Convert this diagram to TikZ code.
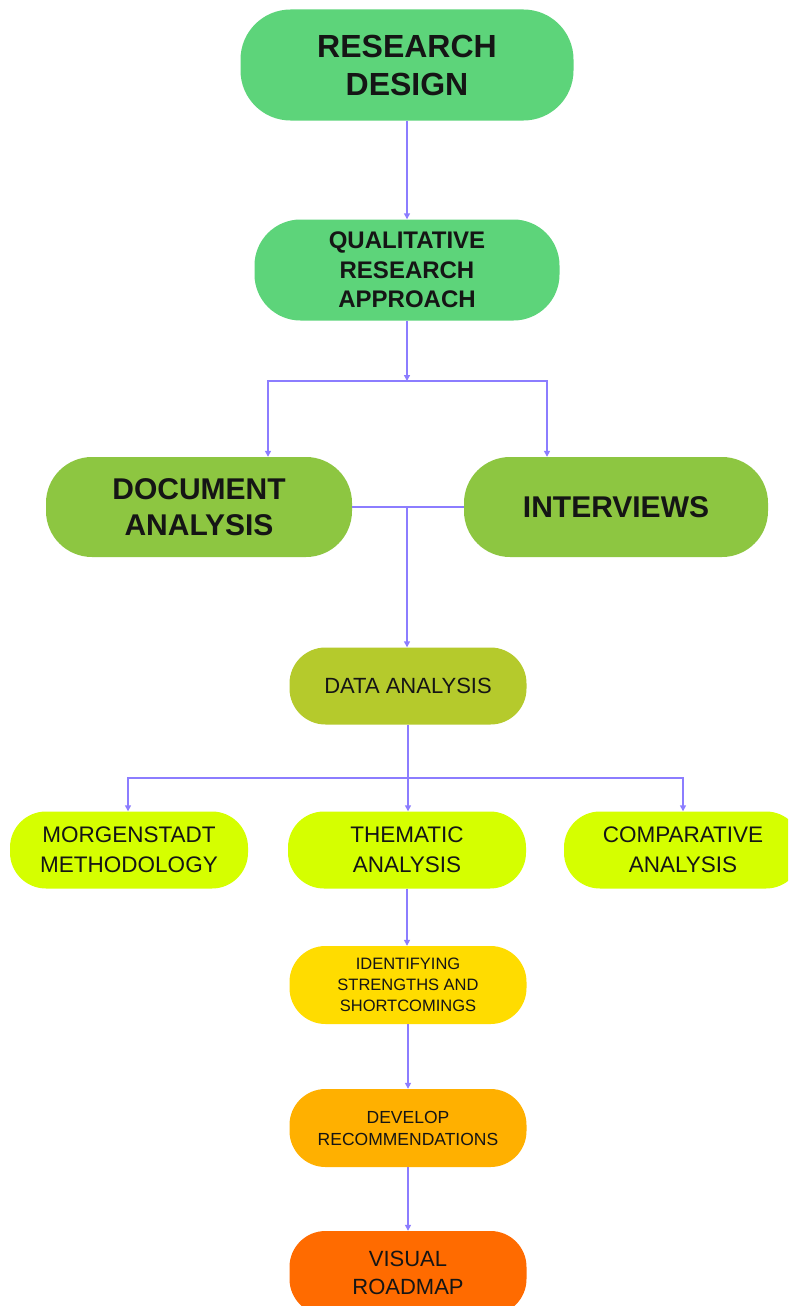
\documentclass[tikz,border=0pt]{standalone}
\usepackage{fontspec}
\setmainfont{Liberation Sans}
\usetikzlibrary{arrows.meta,calc}

\definecolor{greenA}{HTML}{5DD47A}
\definecolor{greenB}{HTML}{8DC641}
\definecolor{olive}{HTML}{B5CA2C}
\definecolor{lime}{HTML}{D5FF00}
\definecolor{yel}{HTML}{FFDC00}
\definecolor{amber}{HTML}{FFB000}
\definecolor{flame}{HTML}{FF6B00}
\definecolor{link}{HTML}{8C7DFF}
\definecolor{ink}{HTML}{151515}

\tikzset{
  pill/.style={rectangle, inner sep=0pt, align=center, text=ink},
  bigpill/.style={pill, minimum width=#1, minimum height=111pt, rounded corners=50pt},
  midpill/.style={pill, minimum height=100pt, rounded corners=46pt},
  smallpill/.style={pill, minimum width=237pt, minimum height=78pt, rounded corners=36pt},
  flow/.style={draw=link, line width=1.4pt, -{Triangle[length=6pt,width=6pt]}},
  plain/.style={draw=link, line width=1.4pt},
}

\begin{document}
\begin{tikzpicture}[x=1pt,y=-1pt]
\clip (0,0) rectangle (788,1306);
\fill[white] (0,0) rectangle (788,1306);

% main column
\node[bigpill=333pt, fill=greenA, font=\bfseries\fontsize{32}{38}\selectfont] (rd) at (407,65) {RESEARCH\\DESIGN};
\node[midpill, minimum width=305pt, minimum height=101pt, fill=greenA, font=\bfseries\fontsize{24}{29.5}\selectfont] (qra) at (407,270) {QUALITATIVE\\RESEARCH\\APPROACH};

% collection methods
\node[midpill, minimum width=306pt, fill=greenB, font=\bfseries\fontsize{30}{36}\selectfont] (doc) at (199,507) {DOCUMENT\\ANALYSIS};
\node[midpill, minimum width=304pt, fill=greenB, font=\bfseries\fontsize{30}{36}\selectfont] (int) at (616,507) {INTERVIEWS};

% analysis
\node[smallpill, minimum height=77pt, fill=olive, font=\fontsize{22}{28}\selectfont] (data) at (408,686) {DATA ANALYSIS};
\node[smallpill, minimum width=238pt, minimum height=77pt, fill=lime, font=\fontsize{22.5}{30}\selectfont] (morg) at (129,850) {MORGENSTADT\\METHODOLOGY};
\node[smallpill, minimum width=238pt, minimum height=77pt, fill=lime, font=\fontsize{22.5}{30}\selectfont] (them) at (407,850) {THEMATIC\\ANALYSIS};
\node[smallpill, minimum width=238pt, minimum height=77pt, fill=lime, font=\fontsize{22.5}{30}\selectfont] (comp) at (683,850) {COMPARATIVE\\ANALYSIS};

% outcomes
\node[smallpill, fill=yel, font=\fontsize{16.5}{21}\selectfont] (ident) at (408,985) {IDENTIFYING\\STRENGTHS AND\\SHORTCOMINGS};
\node[smallpill, fill=amber, font=\fontsize{17.5}{22}\selectfont] (dev) at (408,1128) {DEVELOP\\RECOMMENDATIONS};
\node[smallpill, minimum height=84pt, fill=flame, font=\fontsize{22}{28}\selectfont] (vis) at (408,1273) {VISUAL\\ROADMAP};

% connectors
\coordinate (j1) at (407,381);
\coordinate (j2) at (407,507);
\coordinate (j3) at (408,778);

\draw[flow] (rd.south) -- (qra.north);
\draw[flow] (qra.south) -- (j1);
\draw[flow] (j1) -| ($(doc.north)+(69,0)$);
\draw[flow] (j1) -| ($(int.north)+(-69,0)$);

\draw[plain] (doc.east) -- (j2) -- (int.west);
\draw[flow] (j2) -- (j2 |- data.north);

\draw[plain] (data.south) -- (j3);
\draw[flow] (j3) -| ($(morg.north)+(-1,0)$);
\draw[flow] (j3) -- (j3 |- them.north);
\draw[flow] (j3) -| (comp.north);

\draw[flow] (them.south) -- (them.south |- ident.north);
\draw[flow] (ident.south) -- (dev.north);
\draw[flow] (dev.south) -- (vis.north);
\end{tikzpicture}
\end{document}
